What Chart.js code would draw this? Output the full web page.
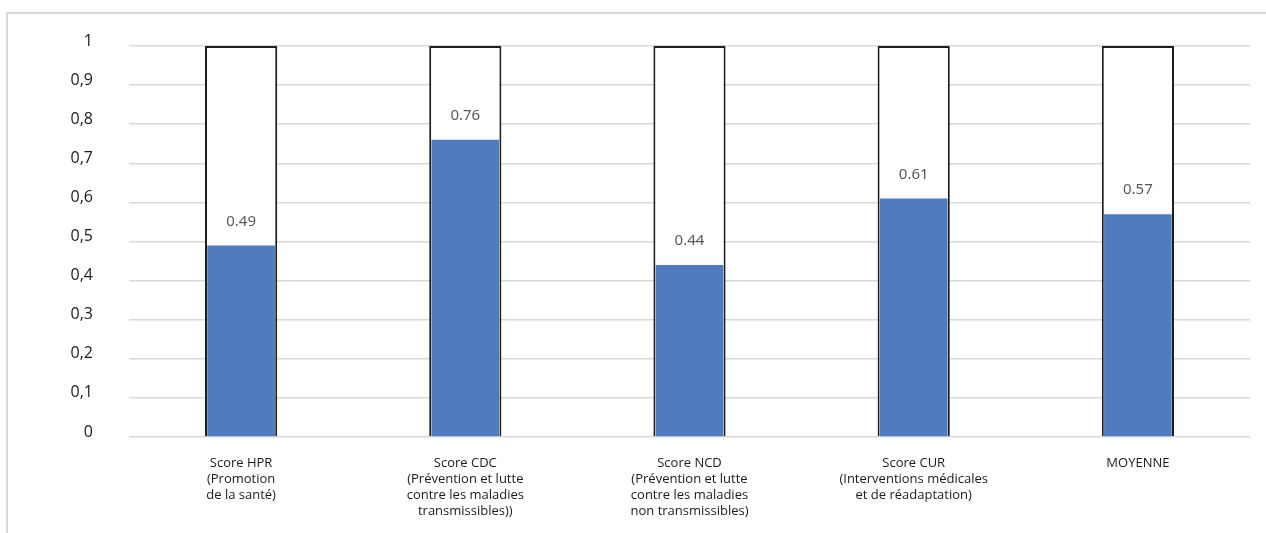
<!DOCTYPE html>
<html>
<head>
<meta charset="utf-8">
<script src="https://cdn.jsdelivr.net/npm/chart.js@4/dist/chart.umd.min.js"></script>
<style>
  html, body { margin: 0; padding: 0; background: #fff; overflow: hidden; }
  #frame {
    position: absolute; left: 6px; top: 12px; width: 1300px; height: 600px;
    border-left: 2px solid #d9d9d9; border-top: 2px solid #d9d9d9;
  }
  #wrap { position: absolute; left: 0; top: 0; width: 1266px; height: 533px; }
</style>
</head>
<body>
<div id="frame"></div>
<div id="wrap"><canvas id="chart" width="1266" height="533"></canvas></div>
<script>
const categories = [
    ['Score HPR', '(Promotion', 'de la santé)'],
    ['Score CDC', '(Prévention et lutte', 'contre les maladies', 'transmissibles))'],
    ['Score NCD', '(Prévention et lutte', 'contre les maladies', 'non transmissibles)'],
    ['Score CUR', '(Interventions médicales', 'et de réadaptation)'],
    ['MOYENNE']
];
const scores = [0.49, 0.76, 0.44, 0.61, 0.57];
const maxScores = [1, 1, 1, 1, 1];
const scoreLabels = ['0.49', '0.76', '0.44', '0.61', '0.57'];
const yTickLabels = ['0', '0,1', '0,2', '0,3', '0,4', '0,5', '0,6', '0,7', '0,8', '0,9', '1'];

const fontFamily = "'Open Sans', 'Noto Sans', sans-serif";

// étiquettes au-dessus des barres bleues
const valueLabels = {
    id: 'valueLabels',
    afterDatasetsDraw(chart) {
        const ctx = chart.ctx;
        const meta = chart.getDatasetMeta(0);
        ctx.save();
        ctx.font = "15px 'Noto Sans', sans-serif";
        ctx.fillStyle = '#595959';
        ctx.textAlign = 'center';
        ctx.textBaseline = 'middle';
        meta.data.forEach((bar, i) => {
            ctx.fillText(scoreLabels[i], bar.x, bar.y - 24);
        });
        ctx.restore();
    }
};

new Chart(document.getElementById('chart').getContext('2d'), {
    type: 'bar',
    data: {
        labels: categories,
        datasets: [
            {
                data: scores,
                backgroundColor: '#4f7bbf',
                borderWidth: 0,
                barPercentage: 0.302,
                categoryPercentage: 1,
                grouped: false,
                order: 1
            },
            {
                data: maxScores,
                backgroundColor: '#ffffff',
                borderColor: '#1e1e1e',
                borderWidth: 2,
                barPercentage: 0.322,
                categoryPercentage: 1,
                grouped: false,
                order: 2
            }
        ]
    },
    options: {
        responsive: false,
        animation: false,
        layout: { padding: { top: 46, right: 16, left: 0, bottom: 0 } },
        plugins: {
            legend: { display: false },
            tooltip: { enabled: false }
        },
        scales: {
            x: {
                grid: { display: false, drawTicks: false },
                border: { display: false },
                ticks: {
                    color: '#1a1a1a',
                    font: { family: fontFamily, size: 13, lineHeight: 1.23 },
                    padding: 18,
                    maxRotation: 0,
                    autoSkip: false
                },
                afterFit: (scale) => { scale.height = 96; }
            },
            y: {
                min: 0,
                max: 1,
                grid: { color: '#d9d9d9', lineWidth: 1.5, drawTicks: false },
                border: { display: false },
                ticks: {
                    stepSize: 0.1,
                    color: '#1a1a1a',
                    font: { family: fontFamily, size: 16 },
                    padding: 36,
                    labelOffset: -5,
                    callback: (v, i) => yTickLabels[i]
                },
                afterFit: (scale) => { scale.width = 129; }
            }
        }
    },
    plugins: [valueLabels]
});
</script>
</body>
</html>
